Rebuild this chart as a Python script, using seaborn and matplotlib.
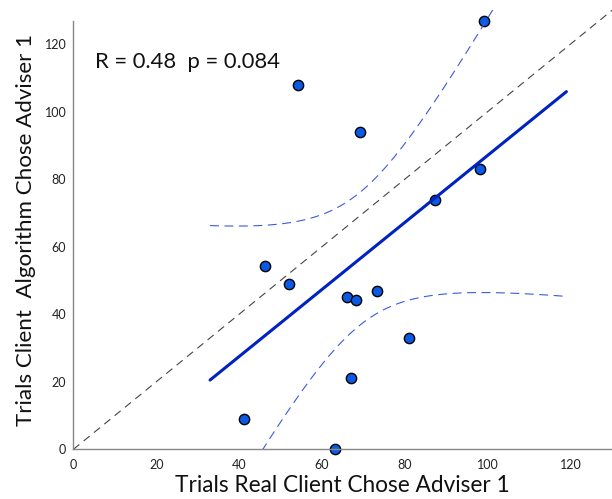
import numpy as np
import pandas as pd
import matplotlib
matplotlib.use("Agg")
import matplotlib.pyplot as plt
import seaborn as sns

# data
real_client = [99.2, 54.2, 69.2, 98.1, 87.2, 46.2, 52.0, 66.1, 68.2, 73.2, 81.1, 67.1, 41.1, 63.2]
algorithm = [126.8, 108.0, 94.0, 83.0, 73.9, 54.2, 48.9, 45.0, 44.1, 47.0, 33.0, 21.0, 9.0, 0.0]
fit_range = [33, 119]
x_ticks = [0, 20, 40, 60, 80, 100, 120]
y_ticks = [0, 20, 40, 60, 80, 100, 120]
annotation = "R = 0.48  p = 0.084"
x_label = "Trials Real Client Chose Adviser 1"
y_label = "Trials Client  Algorithm Chose Adviser 1"

sns.set_style("white")
plt.rcParams['font.family'] = ['Lato', 'DejaVu Sans']

df = pd.DataFrame({"x": real_client, "y": algorithm})
x = np.array(real_client)
y = np.array(algorithm)
n = len(x)
b, a = np.polyfit(x, y, 1)
xs = np.linspace(fit_range[0], fit_range[1], 200)
ys = a + b * xs
resid = y - (a + b * x)
s = np.sqrt(np.sum(resid ** 2) / (n - 2))
sxx = np.sum((x - x.mean()) ** 2)
t = 2.1788  # t(0.975, df=12)
hw = t * s * np.sqrt(1.0 / n + (xs - x.mean()) ** 2 / sxx)

W, H = 612, 499
fig = plt.figure(figsize=(W / 100, H / 100), dpi=100)
left, bottom, top = 73.3, 449.4, 10.3
ax = fig.add_axes([left / W, 1 - bottom / H, (W - left) / W, (bottom - top) / H])

ax.plot([0, 140], [0, 140], linestyle=(0, (7, 5)), color="#444444", lw=0.8, zorder=1)
sns.scatterplot(data=df, x="x", y="y", ax=ax, s=55, color="#0a5ae6",
                edgecolor="black", linewidth=1.0, zorder=2, clip_on=False)
ax.plot(xs, ys, color="#0022c0", lw=2.2, zorder=3)
ax.plot(xs, ys + hw, color="#3a5be0", lw=0.8, linestyle=(0, (8, 5)), zorder=3)
ax.plot(xs, ys - hw, color="#3a5be0", lw=0.8, linestyle=(0, (8, 5)), zorder=3)

ax.set_xlim(0, 130)
ax.set_ylim(0, 130)
ax.set_xticks(x_ticks)
ax.set_yticks(y_ticks)
ax.tick_params(direction="in", length=4, width=0.8, color="#888888",
               labelsize=9, labelcolor="#222222")
ax.tick_params(axis="x", pad=7)
ax.tick_params(axis="y", pad=5)
for side in ["top", "right"]:
    ax.spines[side].set_visible(False)
for side in ["left", "bottom"]:
    ax.spines[side].set_color("#888888")
    ax.spines[side].set_linewidth(1.0)
ax.spines["left"].set_bounds(0, 126.9)

xl = ax.set_xlabel(x_label, fontsize=16, labelpad=3, color="#111111")
yl = ax.set_ylabel(y_label, fontsize=16, labelpad=6, color="#111111")
ann = ax.text(5.3, 112.9, annotation, fontsize=15, va="baseline", ha="left", color="#111111")

# scale text sizes so their lengths match the reference
renderer = fig.canvas.get_renderer()
for txt, target, vertical in [(xl, 335, False), (yl, 394, True), (ann, 186, False)]:
    bb = txt.get_window_extent(renderer)
    cur = bb.height if vertical else bb.width
    txt.set_fontsize(txt.get_fontsize() * target / cur)

fig.savefig("out.png", dpi=100)
